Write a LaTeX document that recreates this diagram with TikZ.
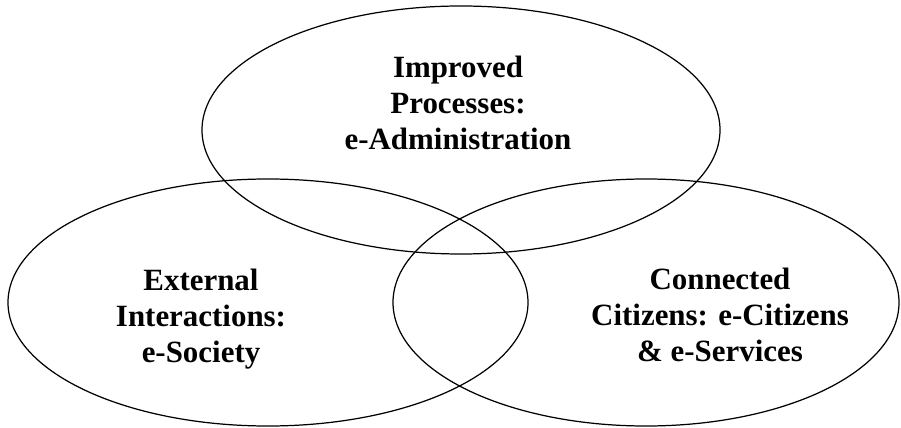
\documentclass[tikz,border=0pt]{standalone}
\usepackage{fontspec}
\setmainfont{Liberation Serif}
\usepackage{tikz}

\begin{document}
\begin{tikzpicture}[x=0.02cm,y=-0.02cm]
			\useasboundingbox (0,0) rectangle (901,428);
			\tikzstyle{every path}=[line width=0.7pt,black]
			\draw (461,130) ellipse [x radius=259,y radius=124];%admin
			\draw (268,302.5) ellipse [x radius=260,y radius=123.5];%society
			\draw (646,302.5) ellipse [x radius=253,y radius=123.5];%citizens
			\tikzstyle{every node}=[inner sep=0pt,align=center,font=\bfseries\fontsize{17.6}{20.5}\selectfont]
			\node (admin) at (458,103) {Improved\\Processes:\\e-Administration};
			\node (society) at (201,319) {External\\Interactions:\\e-Society};
			\node (citizens) at (720,315) {Connected\\Citizens: e-Citizens\\\& e-Services};
		\end{tikzpicture}
\end{document}
